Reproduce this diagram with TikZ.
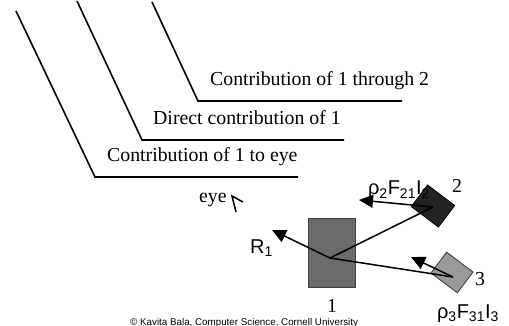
\documentclass[tikz,border=0pt]{standalone}
\usepackage{fontspec}
\setmainfont{Liberation Serif}
\setsansfont{Liberation Sans}
\usetikzlibrary{arrows.meta}
\definecolor{boxone}{HTML}{6B6B6B}
\definecolor{boxtwo}{HTML}{222222}
\definecolor{boxthree}{HTML}{9A9A9A}
\begin{document}
\begin{tikzpicture}[x=1pt,y=-1pt,
  serif/.style={font=\fontsize{19.8}{23}\selectfont\rmfamily, inner sep=0pt},
  sans/.style={font=\fontsize{20}{24}\selectfont\sffamily, inner sep=0pt},
  bracket/.style={line width=1.6pt, line join=miter},
  conn/.style={line width=1.5pt},
  arr/.style={line width=1.5pt, -{Triangle[length=14pt,width=13pt]}},
  patch/.style={draw, line width=0.8pt, inner sep=0pt}]
\useasboundingbox (0,0) rectangle (509,326);
% brackets
\coordinate (a1) at (16,11);  \coordinate (b1) at (95,177);  \coordinate (e1) at (298,177);
\coordinate (a2) at (77,1);   \coordinate (b2) at (142,140); \coordinate (e2) at (344,140);
\coordinate (a3) at (152,2);  \coordinate (b3) at (198,101); \coordinate (e3) at (402,101);
\draw[bracket] (a1) -- (b1) -- (e1);
\draw[bracket] (a2) -- (b2) -- (e2);
\draw[bracket] (a3) -- (b3) -- (e3);
\node[serif, anchor=base west] (t3) at (210,86) {Contribution of 1 through 2};
\node[serif, anchor=base west] (t2) at (153,125) {Direct contribution of 1};
\node[serif, anchor=base west] (t1) at (107,162) {Contribution of 1 to eye};
% eye
\node[serif, anchor=base west] (eye) at (199,203) {eye};
\coordinate (ea) at (232,196);
\coordinate (eb) at (243,202);
\coordinate (ec) at (236,212);
\draw[line width=1.5pt] (eb) -- (ea) -- (ec);
% patches
\node[patch, draw=black!75, fill=boxone, minimum width=47pt, minimum height=69pt] (p1) at (331.5,252.5) {};
\node[patch, fill=boxtwo, minimum width=34pt, minimum height=27pt, rotate=-37] (p2) at (433,206) {};
\node[patch, draw=black!80, fill=boxthree, minimum width=33pt, minimum height=26pt, rotate=-37] (p3) at (452,272.5) {};
\coordinate (c1) at (330,258);
\coordinate (c2) at (433,207);
\coordinate (c3) at (453,277);
\coordinate (r1tip) at (272,230);
\coordinate (r2tip) at (359,200);
\coordinate (r3tip) at (411,257);
\draw[conn] (c1) -- (c2);
\draw[conn] (c1) -- (c3);
\draw[arr] (c1) -- (r1tip);
\draw[arr] (c2) -- (r2tip);
\draw[arr] (c3) -- (r3tip);
% labels
\node[sans, anchor=base west] (lr1) at (250,253) {R\textsubscript{1}};
\node[sans, anchor=base] (lr2) at (399,195) {ρ\textsubscript{2}F\textsubscript{21}I\textsubscript{2}};
\node[sans, anchor=base] (lr3) at (468,318) {ρ\textsubscript{3}F\textsubscript{31}I\textsubscript{3}};
\node[serif, anchor=base] (n1) at (332,312) {1};
\node[serif, anchor=base] (n2) at (457,193) {2};
\node[serif, anchor=base] (n3) at (480,285) {3};
\node[font=\fontsize{9.8}{11}\selectfont\sffamily, inner sep=0pt, anchor=base west] (copy) at (130,325) {© Kavita Bala, Computer Science, Cornell University};
\end{tikzpicture}
\end{document}
